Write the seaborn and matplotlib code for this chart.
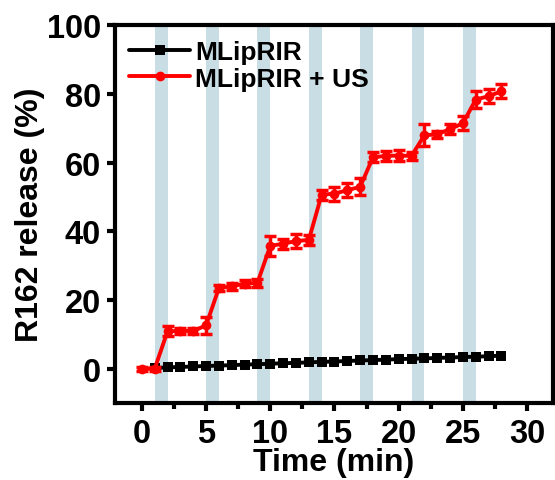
import numpy as np
import pandas as pd
import matplotlib
matplotlib.use("Agg")
import matplotlib.pyplot as plt
from matplotlib.ticker import MultipleLocator
import seaborn as sns

# Release profile of R162 over time, with and without ultrasound (US)
time_us = [0, 1, 2, 3, 4, 5, 6, 7, 8, 9, 10, 11, 12, 13, 14,
           15, 16, 17, 18, 19, 20, 21, 22, 23, 24, 25, 26, 27, 28]
release_us = [0.0, 0.0, 10.9, 11.0, 11.0, 12.6, 23.5, 24.0, 24.8, 25.0,
              35.8, 36.4, 37.2, 37.5, 50.7, 51.0, 52.0, 53.0, 61.6, 62.0,
              62.1, 62.0, 68.0, 68.3, 69.8, 71.5, 78.4, 79.4, 80.8]
err_us = [0.6, 0.6, 1.5, 1.0, 1.0, 2.5, 1.0, 1.0, 1.0, 1.2,
          3.0, 1.5, 2.0, 1.5, 1.5, 2.0, 2.0, 2.5, 1.5, 1.5,
          1.5, 1.2, 3.2, 1.0, 1.5, 2.0, 2.5, 2.0, 2.0]

time_ctrl = [1, 2, 3, 4, 5, 6, 7, 8, 9, 10, 11, 12, 13, 14,
             15, 16, 17, 18, 19, 20, 21, 22, 23, 24, 25, 26, 27, 28]
release_ctrl = [0.2, 0.4, 0.5, 0.65, 0.8, 0.9, 1.05, 1.2, 1.3, 1.45,
                1.6, 1.7, 1.85, 2.0, 2.1, 2.25, 2.4, 2.5, 2.65, 2.8,
                2.9, 3.0, 3.15, 3.25, 3.4, 3.5, 3.65, 3.8]

# Ultrasound-on intervals (min)
us_windows = [(1, 2), (5, 6), (9, 10), (13, 14), (17, 18), (21, 22), (25, 26)]

df_us = pd.DataFrame({"t": time_us, "r": release_us})
df_ctrl = pd.DataFrame({"t": time_ctrl, "r": release_ctrl})

sns.set_style("ticks")
plt.rcParams["font.family"] = ["Liberation Sans", "DejaVu Sans"]
plt.rcParams["font.weight"] = "bold"
plt.rcParams["text.color"] = "black"
plt.rcParams["axes.labelcolor"] = "black"
plt.rcParams["xtick.color"] = "black"
plt.rcParams["ytick.color"] = "black"
plt.rcParams["axes.edgecolor"] = "black"

fig = plt.figure(figsize=(5.55, 4.81), dpi=100)
ax = fig.add_axes([0.207, 0.160, 0.789, 0.785])

for a, b in us_windows:
    ax.axvspan(a, b, color="#c9dde5", lw=0, zorder=0)

sns.lineplot(data=df_ctrl, x="t", y="r", ax=ax, color="black", lw=2.8,
             marker="s", markersize=6.5, markeredgewidth=0,
             label="MLipRIR", zorder=3)
ax.errorbar(time_us, release_us, yerr=err_us, fmt="none", ecolor="red",
            elinewidth=2.5, capsize=4.5, capthick=2.5, zorder=4)
sns.lineplot(data=df_us, x="t", y="r", ax=ax, color="red", lw=2.8,
             marker="o", markersize=7, markeredgewidth=0,
             label="MLipRIR + US", zorder=5)

ax.set_xlim(-2.1, 32)
ax.set_ylim(-10, 100)
ax.xaxis.set_major_locator(MultipleLocator(5))
ax.xaxis.set_minor_locator(MultipleLocator(2.5))
ax.yaxis.set_major_locator(MultipleLocator(20))

for s in ax.spines.values():
    s.set_linewidth(3)
    s.set_visible(True)
    s.set_color("black")
ax.tick_params(axis="both", which="major", length=6, width=3,
               labelsize=23.5, direction="out", colors="black")
ax.tick_params(axis="x", which="major", pad=5)
ax.tick_params(axis="y", which="major", pad=4)
ax.tick_params(axis="x", which="minor", length=4, width=3, direction="out",
               colors="black")
for lab in ax.get_xticklabels() + ax.get_yticklabels():
    lab.set_fontweight("bold")

ax.set_xlabel("Time (min)", fontsize=23, fontweight="bold", labelpad=-2)
ax.set_ylabel("R162 release (%)", fontsize=23, fontweight="bold", labelpad=1)

leg = ax.legend(loc="upper left", frameon=False,
                handlelength=2.3, handletextpad=0.2, borderaxespad=0.15,
                labelspacing=0.1, prop={"weight": "bold", "size": 19})

fig.savefig("out.png", dpi=100)
